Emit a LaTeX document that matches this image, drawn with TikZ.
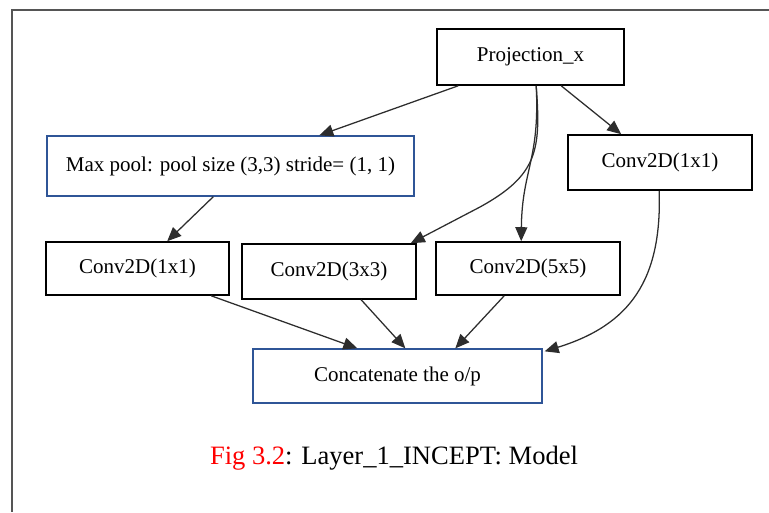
\documentclass[tikz,border=0pt]{standalone}
\usepackage{fontspec}
\setmainfont{Liberation Serif}
\usetikzlibrary{arrows.meta,calc,shadows}
\definecolor{boxblue}{RGB}{47,85,151}
\definecolor{framegray}{RGB}{85,85,85}
\definecolor{linegray}{RGB}{45,45,45}
\begin{document}
\begin{tikzpicture}[x=0.75pt,y=-0.75pt,
  boxbase/.style={rectangle,inner sep=0pt,fill=white,font=\fontsize{15.75}{18}\selectfont,line width=1.2pt},
  blackbox/.style={boxbase,draw=black,drop shadow={shadow xshift=1pt,shadow yshift=-1pt,fill=gray!70,opacity=0.6}},
  bluebox/.style={boxbase,draw=boxblue,line width=1pt},
  conn/.style={draw=linegray,line width=0.95pt,-{Triangle[length=10.5pt,width=9pt]}}
]
\useasboundingbox (0,0) rectangle (769,512);
% frame
\draw[framegray,line width=1.5pt] (769,9.5) -- (11.5,9.5) -- (11.5,512);

\node[blackbox,minimum width=187*0.75pt,minimum height=56*0.75pt] (proj) at (530.5,57) {Projection\_x};
\node[bluebox,minimum width=367*0.75pt,minimum height=60*0.75pt] (maxpool) at (230.5,166) {Max pool: pool size (3,3) stride= (1, 1)};
\node[blackbox,minimum width=184*0.75pt,minimum height=55*0.75pt] (c11r) at (660,162.5) {Conv2D(1x1)};
\node[blackbox,minimum width=183*0.75pt,minimum height=53*0.75pt] (c11l) at (137.5,268.5) {Conv2D(1x1)};
\node[blackbox,minimum width=174*0.75pt,minimum height=55*0.75pt] (c33) at (329,271.5) {Conv2D(3x3)};
\node[blackbox,minimum width=184*0.75pt,minimum height=53*0.75pt] (c55) at (528,268.5) {Conv2D(5x5)};
\node[bluebox,minimum width=289*0.75pt,minimum height=54*0.75pt,drop shadow={shadow xshift=1pt,shadow yshift=-1pt,fill=gray!70,opacity=0.6}] (concat) at (397.5,376) {Concatenate the o/p};

\node[font=\fontsize{19.9}{23}\selectfont] (caption) at (394,458) {\textcolor{red}{Fig 3.2}: Layer\_1\_INCEPT: Model};

% connectors
\draw[conn] ($(proj.south west)+(22,0)$) -- ($(maxpool.north west)+(273,0)$);
\draw[conn] ($(proj.south west)+(100,0)$) .. controls (541,150) and (538,175) .. (480,207) -- ($(c33.north east)+(-6,0)$);
\draw[conn] ($(proj.south west)+(100,0)$) .. controls (540,160) and (522,170) .. ($(c55.north west)+(86,0)$);
\draw[conn] ($(proj.south west)+(125,0)$) -- ($(c11r.north west)+(54,0)$);
\draw[conn] ($(maxpool.south west)+(167,0)$) -- ($(c11l.north west)+(122,0)$);
\draw[conn] ($(c11l.south west)+(166,0)$) -- ($(concat.north west)+(105,0)$);
\draw[conn] ($(c33.south west)+(120,0)$) -- ($(concat.north west)+(153,0)$);
\draw[conn] ($(c55.south west)+(69,0)$) -- ($(concat.north west)+(203,0)$);
\draw[conn] ($(c11r.south west)+(92,0)$) .. controls (662,280) and (630,325) .. ($(concat.north east)+(2,3)$);
\end{tikzpicture}
\end{document}
